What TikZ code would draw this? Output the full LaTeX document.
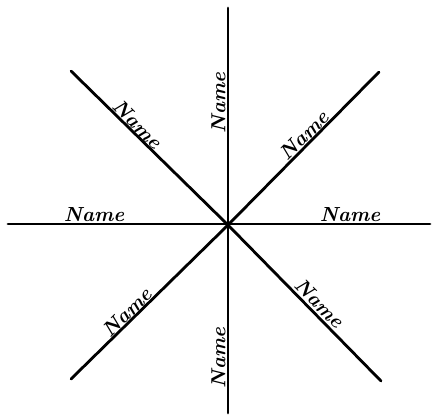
\documentclass[tikz,border=0pt]{standalone}
\usepackage{tikz}
\tikzset{
  ray/.style={line width=2pt, line cap=round},
  namelbl/.style={font=\fontsize{14.5}{17}\selectfont\bfseries\itshape, anchor=south, inner sep=1.5pt}
}

\begin{document}
\begin{tikzpicture}[x=0.025cm, y=-0.025cm]
  \useasboundingbox (0,0) rectangle (434,415);

  \coordinate (ctr) at (228,225);
  \coordinate (endN) at (228,8);
  \coordinate (endS) at (228,413);
  \coordinate (endW) at (8,224);
  \coordinate (endE) at (430,224);
  \coordinate (endNW) at (71,71);
  \coordinate (endNE) at (379,72);
  \coordinate (endSW) at (71,379);
  \coordinate (endSE) at (381,381);

  \draw[ray] (endN) -- (endS);
  \draw[ray] (endW) -- (endE);
  \draw[ray] (endNW) -- (ctr) -- (endSE);
  \draw[ray] (endNE) -- (ctr) -- (endSW);

  \node[namelbl] (nameW) at (94,224) {Name};
  \node[namelbl] (nameE) at (350,224) {Name};
  \node[namelbl, rotate=90] (nameN) at (228,103) {Name};
  \node[namelbl, rotate=90] (nameS) at (228,358) {Name};
  \node[namelbl, rotate=-45] (nameNW) at (131,131) {Name};
  \node[namelbl, rotate=45] (nameNE) at (311,142) {Name};
  \node[namelbl, rotate=45] (nameSW) at (134,319) {Name};
  \node[namelbl, rotate=-45] (nameSE) at (313,310) {Name};
\end{tikzpicture}
\end{document}
